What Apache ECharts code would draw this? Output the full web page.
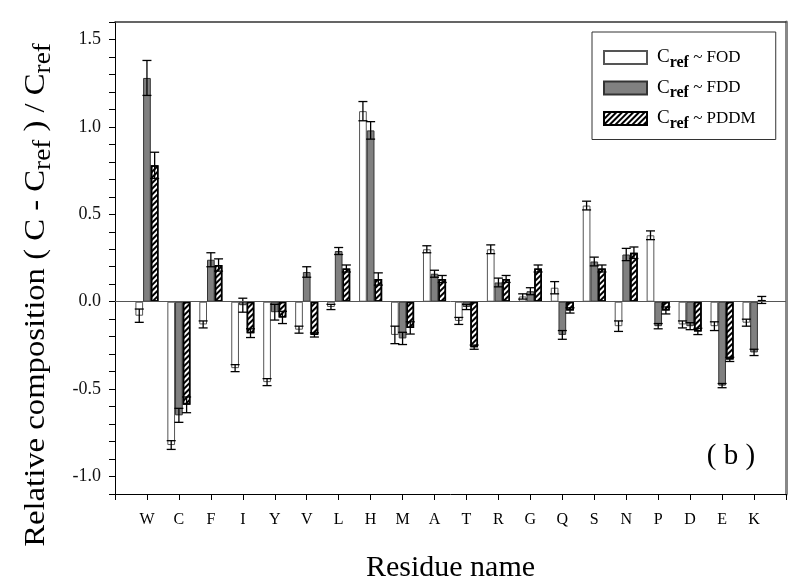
<!DOCTYPE html>
<html>
<head>
<meta charset="utf-8">
<script src="https://cdn.jsdelivr.net/npm/echarts@6/dist/echarts.min.js"></script>
<style>
html, body { margin: 0; padding: 0; background: #fff; }
#main { width: 800px; height: 588px; }
</style>
</head>
<body>
<div id="main"></div>
<script>
// residues along the x axis
var residues = ['W', 'C', 'F', 'I', 'Y', 'V', 'L', 'H', 'M', 'A', 'T', 'R', 'G', 'Q', 'S', 'N', 'P', 'D', 'E', 'K'];

// relative composition
var fod     = [-0.08, -0.82, -0.13, -0.38, -0.46, -0.16, -0.03, 1.09, -0.19, 0.30, -0.11, 0.30, 0.03, 0.08, 0.55, -0.14, 0.38, -0.13, -0.14, -0.12];
var fodErr  = [0.038, 0.025, 0.02, 0.02, 0.02, 0.02, 0.015, 0.055, 0.05, 0.02, 0.02, 0.025, 0.015, 0.035, 0.025, 0.03, 0.025, 0.02, 0.025, 0.02];
var fdd     = [1.28, -0.65, 0.24, -0.02, -0.06, 0.17, 0.29, 0.98, -0.21, 0.16, -0.03, 0.11, 0.06, -0.19, 0.23, 0.27, -0.14, -0.14, -0.48, -0.29];
var fddErr  = [0.10, 0.04, 0.04, 0.04, 0.045, 0.03, 0.02, 0.05, 0.035, 0.02, 0.015, 0.025, 0.02, 0.025, 0.025, 0.035, 0.015, 0.02, 0.012, 0.018];
var pddm    = [0.78, -0.59, 0.21, -0.18, -0.09, -0.19, 0.19, 0.13, -0.15, 0.13, -0.26, 0.13, 0.19, -0.05, 0.19, 0.28, -0.05, -0.17, -0.33, 0.01];
var pddmErr = [0.075, 0.045, 0.035, 0.025, 0.035, 0.012, 0.02, 0.035, 0.035, 0.02, 0.012, 0.02, 0.02, 0.015, 0.02, 0.033, 0.02, 0.018, 0.012, 0.02];

var seriesNames = ['FOD', 'FDD', 'PDDM'];

var SERIF = '"Liberation Serif", "DejaVu Serif", serif';
var BW = 7.7; // width of one bar

// blank slot at each end of the axis, like the original
var cats = [''].concat(residues, ['']);

function barData(vals) {
	return vals.map(function(v, i){ return [i + 1, v]; });
}
function errData(vals, errs) {
	return vals.map(function(v, i){ return [i + 1, v, errs[i]]; });
}

function errorBars(k) {
	return function(params, api) {
		var idx = api.value(0), v = api.value(1), e = api.value(2);
		var hi = api.coord([idx, v + e]);
		var lo = api.coord([idx, v - e]);
		var x = hi[0] + (k - 1) * BW;
		var half = 4.5;
		var st = { stroke: '#000', lineWidth: 1.3 };
		return {
			type: 'group',
			children: [
				{ type: 'line', shape: { x1: x, y1: hi[1], x2: x, y2: lo[1] }, style: st },
				{ type: 'line', shape: { x1: x - half, y1: hi[1], x2: x + half, y2: hi[1] }, style: st },
				{ type: 'line', shape: { x1: x - half, y1: lo[1], x2: x + half, y2: lo[1] }, style: st }
			]
		};
	};
}

var myChart = echarts.init(document.getElementById('main'));

var option = {
	animation: false,
	backgroundColor: '#fff',
	grid: { left: 115, right: 14, top: 22, bottom: 93 },
	legend: {
		orient: 'vertical',
		left: 592,
		top: 32,
		padding: [16, 20, 8, 11],
		icon: 'rect',
		itemWidth: 43,
		itemHeight: 13,
		itemGap: 8,
		borderColor: '#333',
		borderWidth: 1,
		data: seriesNames,
		formatter: function(name){ return '{c|C}{s|ref}{t| ~ ' + name + '}'; },
		textStyle: {
			fontFamily: SERIF,
			color: '#000',
			rich: {
				c: { fontFamily: SERIF, fontSize: 19, color: '#000', padding: [0, 0, 0, 5] },
				s: { fontFamily: SERIF, fontSize: 16, fontWeight: 'bold', color: '#000', padding: [10, 0, 0, 0] },
				t: { fontFamily: SERIF, fontSize: 17, color: '#000' }
			}
		}
	},
	xAxis: [{
		type: 'category',
		data: cats,
		boundaryGap: false,
		axisLine: { onZero: false, lineStyle: { color: '#000', width: 1 } },
		axisTick: { show: true, length: 6, interval: 0, lineStyle: { color: '#000' } },
		axisLabel: { interval: 0, margin: 18, fontFamily: SERIF, fontSize: 16, color: '#000' },
		name: 'Residue name',
		nameLocation: 'middle',
		nameGap: 59,
		nameTextStyle: { fontFamily: SERIF, fontSize: 30, color: '#000' }
	}, {
		type: 'category',
		data: cats,
		position: 'top',
		boundaryGap: false,
		axisLine: { onZero: false, lineStyle: { color: '#333', width: 1.5 } },
		axisTick: { show: false },
		axisLabel: { show: false }
	}],
	yAxis: [{
		type: 'value',
		min: -1.1,
		max: 1.6,
		interval: 0.1,
		splitLine: { show: false },
		axisLine: { show: true, onZero: false, lineStyle: { color: '#000', width: 1 } },
		axisTick: { show: true, length: 6, lineStyle: { color: '#000' } },
		axisLabel: {
			margin: 14,
			fontFamily: SERIF,
			fontSize: 18,
			color: '#111',
			formatter: function(v){
				var r = Math.round(v * 10);
				if (r % 5 !== 0 || r < -10 || r > 15) return '';
				return (r / 10).toFixed(1);
			}
		}
	}, {
		type: 'value',
		position: 'right',
		min: -1.1,
		max: 1.6,
		interval: 0.1,
		splitLine: { show: false },
		axisLine: { show: true, onZero: false, lineStyle: { color: '#888', width: 3 } },
		axisTick: { show: false },
		axisLabel: { show: false }
	}],
	series: [{
		name: 'FOD',
		type: 'bar',
		barWidth: BW,
		barGap: '0%',
		data: barData(fod),
		itemStyle: { color: '#fff', borderColor: '#555', borderWidth: 1 },
		markLine: {
			silent: true,
			symbol: 'none',
			label: { show: false },
			lineStyle: { color: '#555', type: 'solid', width: 1 },
			data: [{ yAxis: 0 }]
		}
	}, {
		name: 'FDD',
		type: 'bar',
		barWidth: BW,
		barGap: '0%',
		data: barData(fdd),
		itemStyle: { color: '#808080', borderColor: '#333', borderWidth: 1 }
	}, {
		name: 'PDDM',
		type: 'bar',
		barWidth: BW,
		barGap: '0%',
		data: barData(pddm),
		itemStyle: {
			color: '#fff',
			borderColor: '#000',
			borderWidth: 1.5,
			decal: {
				symbol: 'rect',
				symbolSize: 1,
				color: '#000',
				dashArrayX: [1, 0],
				dashArrayY: [2, 2],
				rotation: -Math.PI / 4
			}
		}
	}, {
		type: 'custom', z: 3, renderItem: errorBars(0), data: errData(fod, fodErr), silent: true
	}, {
		type: 'custom', z: 3, renderItem: errorBars(1), data: errData(fdd, fddErr), silent: true
	}, {
		type: 'custom', z: 3, renderItem: errorBars(2), data: errData(pddm, pddmErr), silent: true
	}],
	graphic: [{
		type: 'text',
		x: 36,
		y: 295,
		rotation: Math.PI / 2,
		scaleX: 1.09,
		style: {
			text: '{n|Relative composition ( C - C}{s|ref}{n| ) / C}{s|ref}',
			align: 'center',
			verticalAlign: 'middle',
			rich: {
				n: { fontFamily: SERIF, fontSize: 30, fill: '#000' },
				s: { fontFamily: SERIF, fontSize: 25, fill: '#000', padding: [14, 0, 0, 0] }
			}
		}
	}, {
		type: 'text',
		x: 731,
		y: 456,
		style: {
			text: '( b )',
			align: 'center',
			verticalAlign: 'middle',
			fontFamily: SERIF,
			fontSize: 29,
			fill: '#000'
		}
	}]
};

myChart.setOption(option);
</script>
</body>
</html>
